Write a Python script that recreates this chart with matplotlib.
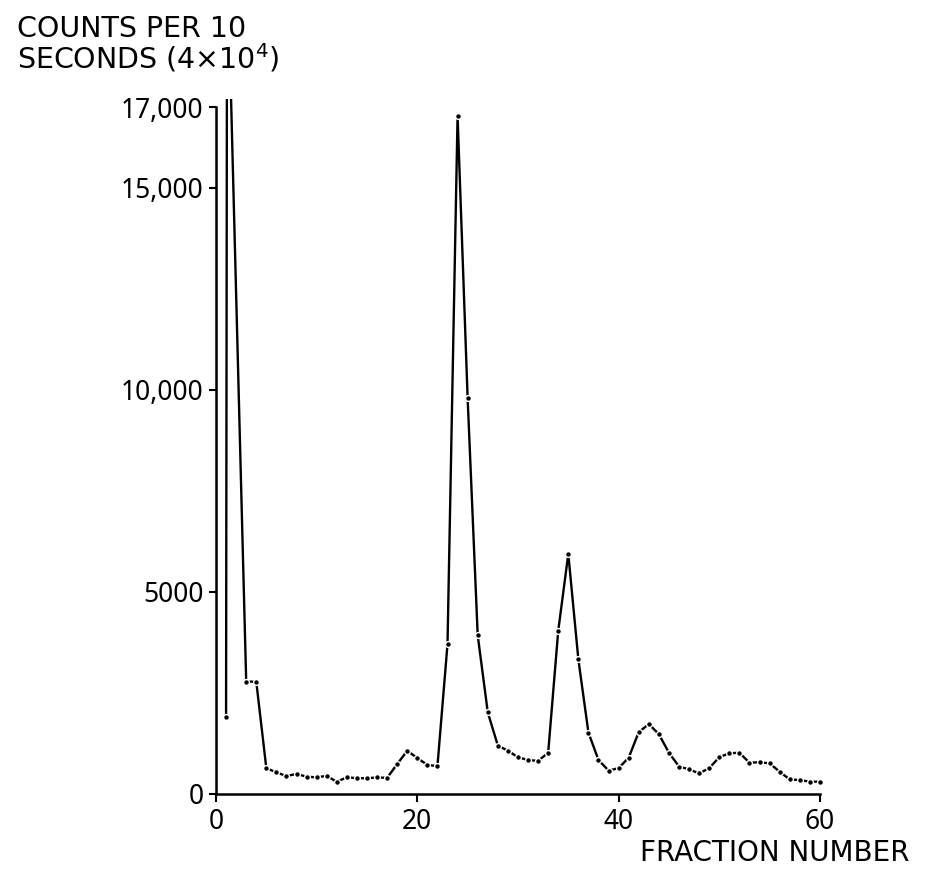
import matplotlib
matplotlib.use("Agg")
import matplotlib.pyplot as plt

# ---- data ----
fraction = [1, 1.1, 3, 4, 5, 6, 7, 8, 9, 10, 11, 12, 13, 14, 15, 16, 17, 18, 19, 20,
            21, 22, 23, 24, 25, 26, 27, 28, 29, 30, 31, 32, 33, 34, 35, 36, 37, 38, 39, 40,
            41, 42, 43, 44, 45, 46, 47, 48, 49, 50, 51, 52, 53, 54, 55, 56, 57, 58, 59, 60]
counts = [1910, 21000, 2780, 2780, 640, 535, 445, 495, 430, 410, 450, 300, 415, 390, 390,
          410, 400, 740, 1070, 890, 720, 690, 3710, 16780, 9790, 3930, 2020, 1200, 1070, 910,
          840, 820, 1020, 4040, 5940, 3330, 1520, 840, 580, 640, 900, 1530, 1730, 1480, 1020,
          680, 610, 510, 640, 910, 1010, 1020, 775, 785, 760, 550, 360, 345, 305, 305]
yticks = [0, 5000, 10000, 15000, 17000]
ytick_labels = ["0", "5000", "10,000", "15,000", "17,000"]
xticks = [0, 20, 40, 60]
xtick_labels = ["0", "20", "40", "60"]

tick_family = ["Noto Sans", "DejaVu Sans"]

fig = plt.figure(figsize=(9.31, 8.82), dpi=100)
W, H = 931, 882
left, right = 216 / W, 830 / W
bottom = 1 - 794 / H
top = 1 - 99 / H
ax = fig.add_axes([left, bottom, right - left, top - bottom])

ax.plot(fraction, counts, color="black", lw=1.7, marker="o", markersize=4.2,
        markerfacecolor="black", markeredgecolor="white", markeredgewidth=1.0,
        solid_capstyle="butt")

ax.set_xlim(0, 61)
ax.set_ylim(0, 17200)
for s in ("top", "right"):
    ax.spines[s].set_visible(False)
ax.spines["left"].set_bounds(0, 17000)
ax.spines["bottom"].set_bounds(0, 60)
ax.spines["left"].set_linewidth(1.8)
ax.spines["bottom"].set_linewidth(1.8)

ax.set_yticks(yticks)
ax.set_yticklabels(ytick_labels)
ax.set_xticks(xticks)
ax.set_xticklabels(xtick_labels)
for lab in ax.get_xticklabels() + ax.get_yticklabels():
    lab.set_family(tick_family)
    lab.set_fontsize(19)
    lab.set_fontstretch("extra-condensed")
ax.tick_params(axis="y", direction="out", length=5, width=1.5, pad=4)
ax.tick_params(axis="x", direction="out", length=6, width=1.5, pad=4)

fig.text(17 / W, 1 - 37 / H, "COUNTS PER 10", fontsize=20.5,
         family="DejaVu Sans", ha="left", va="baseline")
fig.text(17 / W, 1 - 68 / H, "SECONDS (4×10$^{4}$)", fontsize=20.5,
         family="DejaVu Sans", ha="left", va="baseline")
fig.text(910 / W, 1 - 861 / H, "FRACTION NUMBER", fontsize=20, family="DejaVu Sans",
         ha="right", va="baseline")

fig.savefig("out.png", dpi=100)
